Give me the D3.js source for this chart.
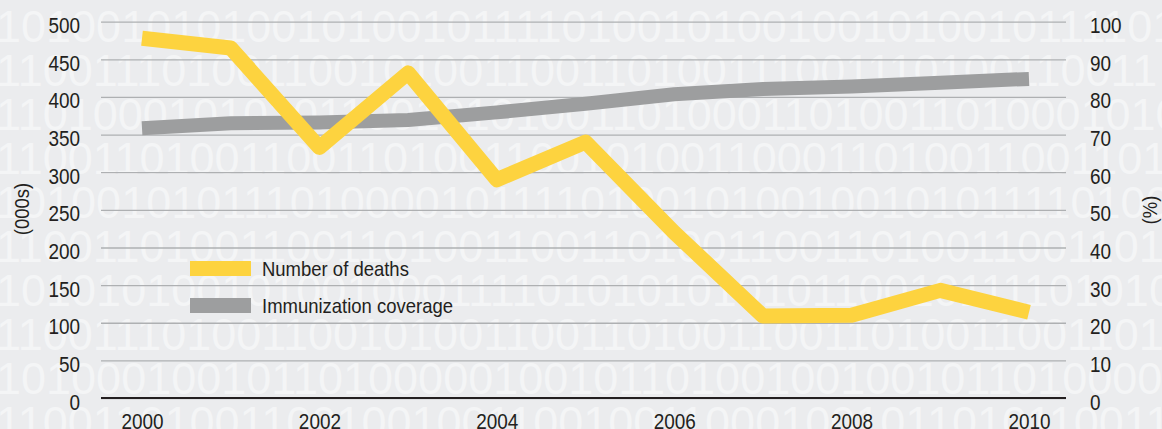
<html>
<head>
    <meta charset="utf-8">
    <title>Deaths and immunization coverage</title>
    <script src="https://cdn.jsdelivr.net/npm/d3@7/dist/d3.min.js"></script>
</head>
<style>
    html, body {
        margin: 0;
        padding: 0;
        background: #ebecee;
    }
    svg {
        display: block;
        font-family: "Liberation Sans Narrow", "Arial Narrow", "Liberation Sans", sans-serif;
    }
    .tick text {
        fill: #231f20;
        font-size: 22px;
    }
    .legend text {
        fill: #231f20;
        font-size: 21px;
    }
    .wm {
        font-family: "Liberation Sans", Arial, sans-serif;
        font-size: 45px;
        fill: #f4f5f6;
    }
</style>
<body>
<svg width="1162" height="429" id="mainsvg"></svg>
<script>
    // data
    const years = [2000, 2001, 2002, 2003, 2004, 2005, 2006, 2007, 2008, 2009, 2010];
    const deaths = [478, 465, 333, 432, 290, 340, 220, 109, 110, 143, 114];      // (000s)
    const coverage = [71.7, 73.0, 73.2, 73.9, 75.9, 78.2, 80.7, 82.1, 82.8, 83.8, 84.8]; // (%)
    const leftTicks = [0, 50, 100, 150, 200, 250, 300, 350, 400, 450, 500];
    const rightTicks = [0, 10, 20, 30, 40, 50, 60, 70, 80, 90, 100];
    const yearTicks = [2000, 2002, 2004, 2006, 2008, 2010];
    const seriesNames = ["Number of deaths", "Immunization coverage"];
    const seriesColors = ["#fdd33f", "#9d9e9f"];

    // background binary pattern
    const watermarkRows = [
        "101001010100101001011110100101001001010010111101",
        "110011101001100101001100110100111001110100110011",
        "110100010101011001010100110100011010011010001010",
        "110011010011001101001100101001100011010011001101",
        "101001010111010000101111010010100100101011110100",
        "110011010011001101001100110100110011010011001101",
        "101010100101001000111101010101010110010111101010",
        "110011101001100101001100110100110011010011001101",
        "101000100101101000001001011010010010010110100001",
        "110011010011001001001100100110001001011010110011"
    ];

    // the original type is a condensed face; squeeze the fallback font to match
    function condense(sel, k) {
        sel.each(function () {
            const w = this.getComputedTextLength();
            d3.select(this).attr('textLength', w * k).attr('lengthAdjust', 'spacingAndGlyphs');
        });
    }

    const svg = d3.select('#mainsvg');
    const margin = {top: 21.7, right: 96, bottom: 31, left: 101};
    const width = +svg.attr('width');
    const height = +svg.attr('height');
    const innerWidth = width - margin.left - margin.right;
    const innerHeight = height - margin.top - margin.bottom;

    svg.append('rect').attr('width', width).attr('height', height).attr('fill', '#ebecee');

    svg.append('g').selectAll('text').data(watermarkRows).join('text')
        .attr('class', 'wm')
        .attr('x', -4)
        .attr('y', (d, i) => 42 + i * 44)
        .text(d => d);

    const g = svg.append('g').attr('transform', `translate(${margin.left}, ${margin.top})`);

    const xScale = d3.scaleLinear().domain([2000, 2010]).range([41, 928]);
    const yLeft = d3.scaleLinear().domain([0, 500]).range([innerHeight, 0]);
    const yRight = d3.scaleLinear().domain([0, 100]).range([innerHeight, 0]);

    // gridlines
    const grid = g.append('g')
        .call(d3.axisLeft(yLeft).tickValues(leftTicks).tickSize(-innerWidth).tickFormat(''));
    grid.select('.domain').remove();
    grid.selectAll('.tick line').attr('stroke', '#aeb0b2').attr('stroke-width', 1.3);

    // left axis labels
    const leftAxis = g.append('g')
        .call(d3.axisLeft(yLeft).tickValues(leftTicks).tickSize(0).tickPadding(21));
    leftAxis.select('.domain').remove();
    leftAxis.selectAll('text').attr('dy', '0.5em');

    // right axis labels
    const rightAxis = g.append('g').attr('transform', `translate(${innerWidth}, 0)`)
        .call(d3.axisRight(yRight).tickValues(rightTicks).tickSize(0).tickPadding(24));
    rightAxis.select('.domain').remove();
    rightAxis.selectAll('text').attr('dy', '0.5em');

    // bottom axis
    const xAxis = g.append('g').attr('transform', `translate(0, ${innerHeight})`)
        .call(d3.axisBottom(xScale).tickValues(yearTicks).tickFormat(d3.format('d')).tickSize(0).tickPadding(15));
    xAxis.select('.domain').remove();

    g.append('line')
        .attr('x1', 0).attr('x2', innerWidth)
        .attr('y1', innerHeight).attr('y2', innerHeight)
        .attr('stroke', '#231f20').attr('stroke-width', 2);

    // axis titles
    const titles = svg.append('g');
    titles.append('text')
        .attr('transform', `translate(29, 209) rotate(-90)`)
        .attr('text-anchor', 'middle')
        .attr('fill', '#231f20').attr('font-size', 21)
        .text('(000s)');
    titles.append('text')
        .attr('transform', `translate(1157, 210) rotate(-90)`)
        .attr('text-anchor', 'middle')
        .attr('fill', '#231f20').attr('font-size', 21)
        .text('(%)');

    // lines
    const deathLine = d3.line().x((d, i) => xScale(years[i])).y(d => yLeft(d));
    const covLine = d3.line().x((d, i) => xScale(years[i])).y(d => yRight(d));

    g.append('path').datum(coverage)
        .attr('d', covLine)
        .attr('fill', 'none')
        .attr('stroke', seriesColors[1])
        .attr('stroke-width', 14)
        .attr('stroke-linejoin', 'round');

    g.append('path').datum(deaths)
        .attr('d', deathLine)
        .attr('fill', 'none')
        .attr('stroke', seriesColors[0])
        .attr('stroke-width', 15)
        .attr('stroke-linejoin', 'round');

    // legend
    const legend = svg.append('g').attr('class', 'legend');
    const items = legend.selectAll('g').data(seriesNames).join('g')
        .attr('transform', (d, i) => `translate(190, ${261 + i * 37})`);
    items.append('rect')
        .attr('width', 61).attr('height', 15)
        .attr('fill', (d, i) => seriesColors[i]);
    items.append('text')
        .attr('x', 72).attr('y', 15)
        .text(d => d);

    condense(g.selectAll('.tick text'), 0.86);
    condense(legend.selectAll('text'), 0.88);
    condense(titles.selectAll('text'), 0.88);
</script>
</body>
</html>
